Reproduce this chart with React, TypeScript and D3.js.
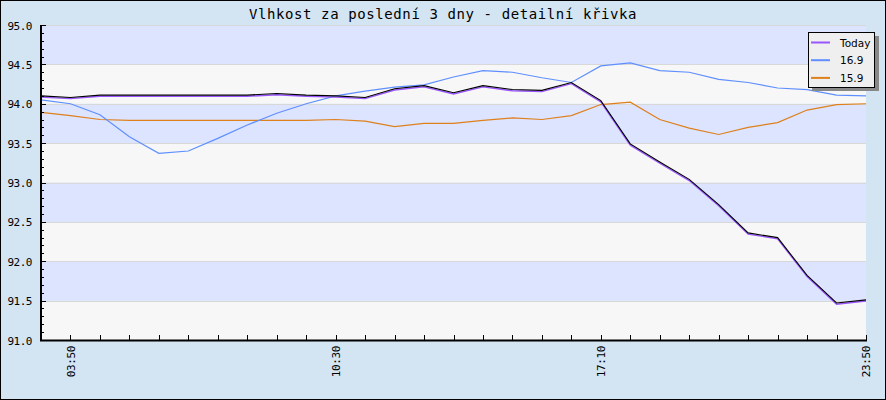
import React from "react";
import * as d3 from "d3";

const W = 886;
const H = 400;

const titleText = "Vlhkost za poslední 3 dny - detailní křivka";

const seriesNames = ["Today", "16.9", "15.9"];
const seriesColors = ["#9955ff", "#5f8fff", "#de801c"];

const today = [
  94.10, 94.08, 94.11, 94.11, 94.11, 94.11, 94.11, 94.11, 94.13, 94.11,
  94.10, 94.08, 94.19, 94.23, 94.14, 94.23, 94.18, 94.17, 94.27, 94.04,
  93.49, 93.26, 93.04, 92.72, 92.36, 92.30, 91.82, 91.47, 91.51,
];
const day169 = [
  94.05, 94.00, 93.86, 93.58, 93.37, 93.40, 93.56, 93.73, 93.88, 94.00,
  94.10, 94.16, 94.21, 94.24, 94.34, 94.42, 94.40, 94.33, 94.27, 94.48,
  94.52, 94.42, 94.40, 94.31, 94.27, 94.20, 94.18, 94.11, 94.10,
];
const day159 = [
  93.89, 93.85, 93.80, 93.79, 93.79, 93.79, 93.79, 93.79, 93.79, 93.79,
  93.80, 93.78, 93.71, 93.75, 93.75, 93.79, 93.82, 93.80, 93.85, 93.99,
  94.02, 93.80, 93.69, 93.61, 93.70, 93.76, 93.92, 93.99, 94.00,
];

const xTickIndex = [1, 10, 19, 28];
const xTickLabels = ["03:50", "10:30", "17:10", "23:50"];
const yMajorTicks = [91.0, 91.5, 92.0, 92.5, 93.0, 93.5, 94.0, 94.5, 95.0];

const plot = { left: 41, right: 866, top: 25, bottom: 340 };

export default function App() {
  const n = today.length;
  const x = d3.scaleLinear().domain([0, n - 1]).range([plot.left, plot.right]);
  const y = d3.scaleLinear().domain([91, 95]).range([plot.bottom, plot.top]);

  const line = d3
    .line<number>()
    .x((_, i) => x(i))
    .y((d) => y(d));

  const bands = d3.range(91, 95, 0.5);
  const minor = d3.range(91, 95.001, 0.1);
  const xTicks = d3.range(0, n);

  const mono = "'DejaVu Sans Mono', monospace";

  return (
    <svg
      width={W}
      height={H}
      style={{ position: "absolute", left: 0, top: 0 }}
      xmlns="http://www.w3.org/2000/svg"
    >
      <rect x={0.5} y={0.5} width={W - 1} height={H - 1} fill="#d3e4f3" stroke="#000" />
      {/* bands */}
      {bands.map((b, i) => (
        <rect
          key={"b" + i}
          x={plot.left}
          y={y(b + 0.5)}
          width={plot.right - plot.left}
          height={y(b) - y(b + 0.5)}
          fill={i % 2 === 0 ? "#f7f7f7" : "#dde4ff"}
        />
      ))}
      {yMajorTicks.map((t, i) => (
        <line
          key={"g" + i}
          x1={plot.left}
          x2={plot.right}
          y1={Math.round(y(t)) + 0.5}
          y2={Math.round(y(t)) + 0.5}
          stroke="#d8d8d8"
        />
      ))}
      {/* title */}
      <text
        x={W / 2}
        y={18.5}
        textAnchor="middle"
        fontFamily={mono}
        fontSize={14}
        letterSpacing={0.6}
        fill="#000"
      >
        {titleText}
      </text>
      {/* series */}
      <path d={line(day159) || ""} fill="none" stroke={seriesColors[2]} strokeWidth={1.2} />
      <path d={line(day169) || ""} fill="none" stroke={seriesColors[1]} strokeWidth={1.2} />
      <g transform="translate(0,1.2)">
        <path d={line(today) || ""} fill="none" stroke={seriesColors[0]} strokeWidth={1.4} />
      </g>
      <path d={line(today) || ""} fill="none" stroke="#000" strokeWidth={1.1} />
      {/* y axis */}
      <line x1={41} x2={41} y1={plot.top} y2={plot.bottom + 1} stroke="#000" strokeWidth={2} />
      {minor.map((t, i) => {
        const major = Math.abs(t * 2 - Math.round(t * 2)) < 1e-6;
        const yy = Math.round(y(t)) + 0.5;
        return (
          <line key={"mt" + i} x1={41} x2={major ? 46 : 44} y1={yy} y2={yy} stroke="#000" />
        );
      })}
      {yMajorTicks.map((t, i) => (
        <text
          key={"yl" + i}
          x={32}
          y={y(t) + 4.5}
          textAnchor="end"
          fontFamily={mono}
          fontSize={11}
          letterSpacing={-0.5}
          fill="#000"
        >
          {t.toFixed(1)}
        </text>
      ))}
      {/* x axis */}
      <line x1={40} x2={plot.right + 1} y1={340.5} y2={340.5} stroke="#000" strokeWidth={2} />
      {xTicks.map((i) => {
        const xx = Math.round(x(i)) + 0.5;
        return <line key={"xt" + i} x1={xx} x2={xx} y1={335} y2={340} stroke="#000" />;
      })}
      {xTickIndex.map((idx, i) => (
        <text
          key={"xl" + i}
          transform={`translate(${x(idx) + 0.5},346) rotate(-90)`}
          textAnchor="end"
          dy="0.35em"
          fontFamily={mono}
          fontSize={11}
          letterSpacing={-0.4}
          fill="#000"
        >
          {xTickLabels[i]}
        </text>
      ))}
      {/* legend */}
      <rect x={812} y={36} width={67} height={55} fill="#888" />
      <rect x={808.5} y={32.5} width={66} height={55} fill="#efefef" stroke="#000" />
      {seriesNames.map((s, i) => (
        <g key={"lg" + i}>
          <line
            x1={811}
            x2={830}
            y1={42.5 + i * 17.7}
            y2={42.5 + i * 17.7}
            stroke={seriesColors[i]}
            strokeWidth={2}
          />
          <text
            x={840}
            y={46.5 + i * 17.7}
            fontFamily="'DejaVu Sans', sans-serif"
            fontSize={10.5}
            fill="#000"
          >
            {s}
          </text>
        </g>
      ))}
    </svg>
  );
}
